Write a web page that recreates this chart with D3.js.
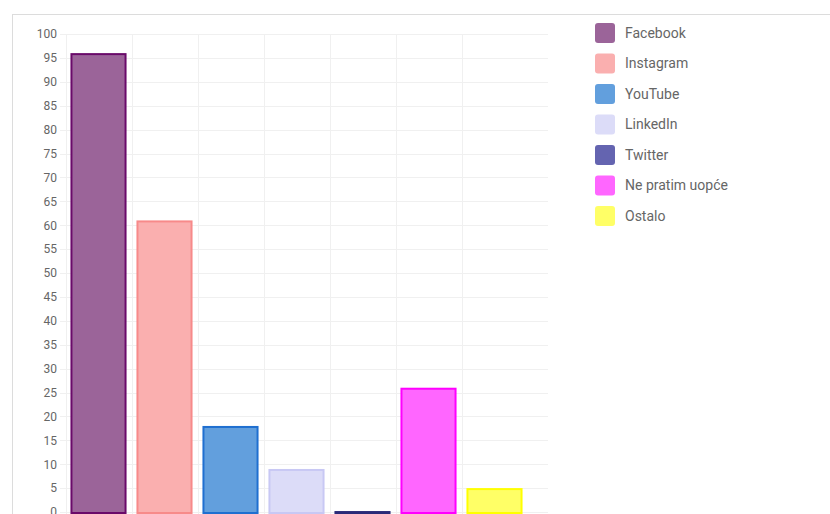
<!DOCTYPE html>
<html><head><meta charset="utf-8">
<script src="https://cdn.jsdelivr.net/npm/d3@7"></script>
<style>body{margin:0;background:#fff;}svg{display:block;font-family:Roboto,"Noto Sans",sans-serif;}</style>
</head><body>
<svg id="c" width="830" height="514"></svg>
<script>
const categories = ["Facebook","Instagram","YouTube","LinkedIn","Twitter","Ne pratim uopće","Ostalo"];
const values = [96, 61, 18, 9, 0.2, 26, 5];
const fills = ["#9b6499","#faafaf","#629fdd","#dcdcf8","#6464b0","#ff66ff","#ffff66"];
const borders = ["#6a0a6a","#f78a8a","#1f6fd0","#c8c8f4","#2a2a78","#ff00ff","#ffff00"];
const yTicks = d3.range(0, 101, 5);

const svg = d3.select("#c");
// frame
svg.append("line").attr("x1",12).attr("x2",830).attr("y1",14.5).attr("y2",14.5).attr("stroke","#dcdcdc");
svg.append("line").attr("x1",12.5).attr("x2",12.5).attr("y1",14).attr("y2",514).attr("stroke","#dcdcdc");

const y = d3.scaleLinear().domain([0,100]).range([512,34]);
const x = d3.scaleBand().domain(categories).range([65.5,527.5]).paddingInner(0.15).paddingOuter(0.075);
const gap = (x.step()-x.bandwidth())/2;

// horizontal grid
svg.append("g").selectAll("line").data(yTicks).join("line")
  .attr("x1",60).attr("x2",548).attr("y1",d=>Math.round(y(d))+0.5).attr("y2",d=>Math.round(y(d))+0.5)
  .attr("stroke","#f0f0f0");
// vertical grid
svg.append("g").selectAll("line").data(categories).join("line")
  .attr("x1",d=>Math.round(x(d)-gap)+0.5).attr("x2",d=>Math.round(x(d)-gap)+0.5)
  .attr("y1",34).attr("y2",514).attr("stroke","#f0f0f0");

// y axis labels
const yAxis = d3.axisLeft(y).tickValues(yTicks).tickSize(0).tickPadding(0);
const gy = svg.append("g").attr("transform","translate(57,0)").call(yAxis);
gy.select(".domain").remove();
gy.selectAll("text").attr("font-size",12).attr("fill","#666").attr("font-family","Roboto, sans-serif");

// bars
svg.append("g").selectAll("rect").data(categories).join("rect")
  .attr("x",d=>x(d)+1).attr("width",x.bandwidth()-2)
  .attr("y",(d,i)=>y(values[i])+1).attr("height",(d,i)=>Math.max(0.5,y(0)-y(values[i])))
  .attr("fill",(d,i)=>fills[i]).attr("stroke",(d,i)=>borders[i]).attr("stroke-width",2);

// legend
const lg = svg.append("g").selectAll("g").data(categories).join("g")
  .attr("transform",(d,i)=>`translate(595,${33+i*30.5})`);
lg.append("rect").attr("x",0).attr("y",-10).attr("width",20).attr("height",20).attr("rx",3)
  .attr("fill",(d,i)=>fills[i]);
lg.append("text").attr("x",30).attr("y",0).attr("dy","0.35em").attr("font-size",14).attr("fill","#666")
  .text(d=>d);
</script>
</body></html>
